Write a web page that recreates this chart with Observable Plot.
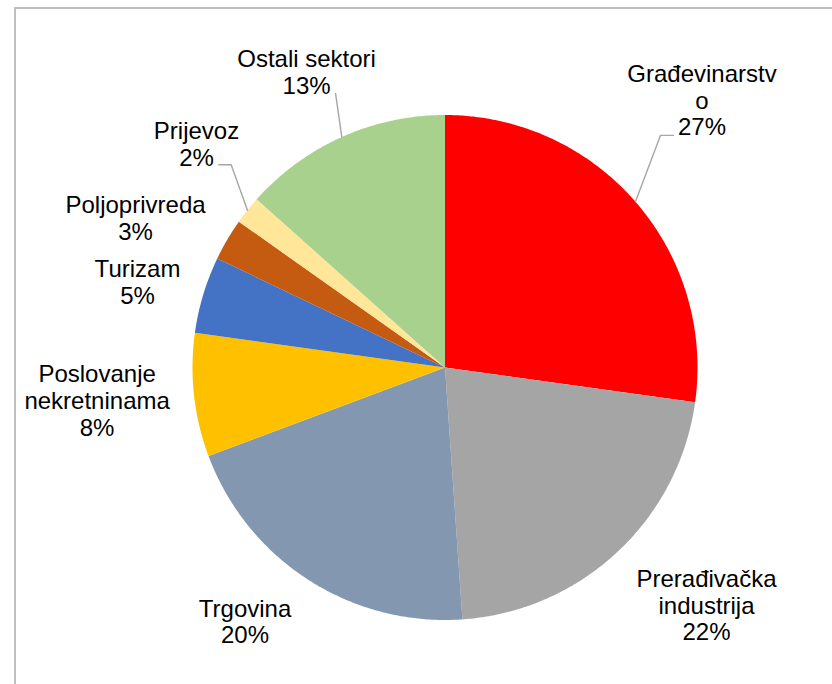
<!DOCTYPE html>
<html><head><meta charset="utf-8">
<script src="https://cdn.jsdelivr.net/npm/d3@7"></script>
<script src="https://cdn.jsdelivr.net/npm/@observablehq/plot@0.6"></script>
<style>
html,body{margin:0;padding:0;background:#fff;overflow:hidden;}
#wrap{position:relative;width:832px;height:684px;overflow:hidden;}
#frame{position:absolute;left:14px;top:7px;width:900px;height:800px;border-left:2px solid #bfbfbf;border-top:2px solid #bfbfbf;pointer-events:none;}
</style></head><body>
<div id="wrap"><div id="chart"></div><div id="frame"></div></div>
<script>
// ---- data ----
const sectors = ["Građevinarstvo","Prerađivačka industrija","Trgovina","Poslovanje nekretninama","Turizam","Poljoprivreda","Prijevoz","Ostali sektori"];
const shares = [27.2, 21.7, 20.4, 7.9, 4.9, 2.7, 1.8, 13.4];
const labelNames = ["Građevinarstv\no","Prerađivačka\nindustrija","Trgovina","Poslovanje\nnekretninama","Turizam","Poljoprivreda","Prijevoz","Ostali sektori"];
const colors = ["#FF0000","#A5A5A5","#8497B0","#FFC000","#4472C4","#C55A11","#FFE699","#A9D18E"];

// ---- layout (polar label placement, radius units) ----
const labelAngle = [43.85,132.24,218.22,264.58,285.54,295.86,312.03,334.93];
const labelDist  = [1.469,1.399,1.280,1.384,1.264,1.362,1.325,1.294];
const leaderSectors = ["Građevinarstvo","Prijevoz","Ostali sektori"];
const leaderEnd   = [[-28.5,35.4],[22.3,21.2],[29,21.8]];   // px from label anchor
const leaderElbow = [[-41.5,35.4],[34.7,21.2],null];

const W = 832, H = 684, CX = 444.5, CY = 367, RPX = 252.5;

const total = d3.sum(shares);
let acc = 0;
const slices = sectors.map((s, i) => {
  const a0 = acc / total * 2 * Math.PI;
  acc += shares[i];
  const a1 = acc / total * 2 * Math.PI;
  return {sector: s, a0, a1, mid: (a0 + a1) / 2, share: shares[i], i};
});

const polyPts = slices.flatMap(d => {
  const n = Math.max(2, Math.ceil((d.a1 - d.a0) / (Math.PI / 360)));
  const pts = [{sector: d.sector, x: 0, y: 0}];
  for (let k = 0; k <= n; k++) {
    const a = d.a0 + (d.a1 - d.a0) * k / n;
    pts.push({sector: d.sector, x: Math.sin(a), y: Math.cos(a)});
  }
  pts.push({sector: d.sector, x: 0, y: 0});
  return pts;
});

const labels = slices.map(d => {
  const a = labelAngle[d.i] * Math.PI / 180, r = labelDist[d.i];
  return {sector: d.sector, x: r * Math.sin(a), y: r * Math.cos(a),
          text: labelNames[d.i] + "\n" + Math.round(d.share / total * 100) + "%"};
});

const leaderPts = leaderSectors.flatMap((s, j) => {
  const d = slices.find(e => e.sector === s);
  const L = labels.find(e => e.sector === s);
  const pts = [{sector: s, x: Math.sin(d.mid), y: Math.cos(d.mid)}];
  if (leaderElbow[j]) pts.push({sector: s, x: L.x + leaderElbow[j][0] / RPX, y: L.y - leaderElbow[j][1] / RPX});
  pts.push({sector: s, x: L.x + leaderEnd[j][0] / RPX, y: L.y - leaderEnd[j][1] / RPX});
  return pts;
});

const chart = Plot.plot({
  width: W, height: H, margin: 0,
  x: {domain: [-CX / RPX, (W - CX) / RPX], axis: null},
  y: {domain: [-(H - CY) / RPX, CY / RPX], axis: null},
  color: {domain: sectors, range: colors},
  style: {fontFamily: "'Liberation Sans', Arial, sans-serif", background: "transparent"},
  marks: [
    Plot.line(polyPts, {x: "x", y: "y", z: "sector", fill: "sector", stroke: "none", curve: "linear"}),
    Plot.line(leaderPts, {x: "x", y: "y", z: "sector", stroke: "#A6A6A6", strokeWidth: 1.4, curve: "linear"}),
    Plot.text(labels, {x: "x", y: "y", text: "text", fontSize: 24, lineHeight: 1.12,
      textAnchor: "middle", lineAnchor: "middle", fill: "#000"})
  ]
});
document.getElementById("chart").appendChild(chart);
</script>
</body></html>
